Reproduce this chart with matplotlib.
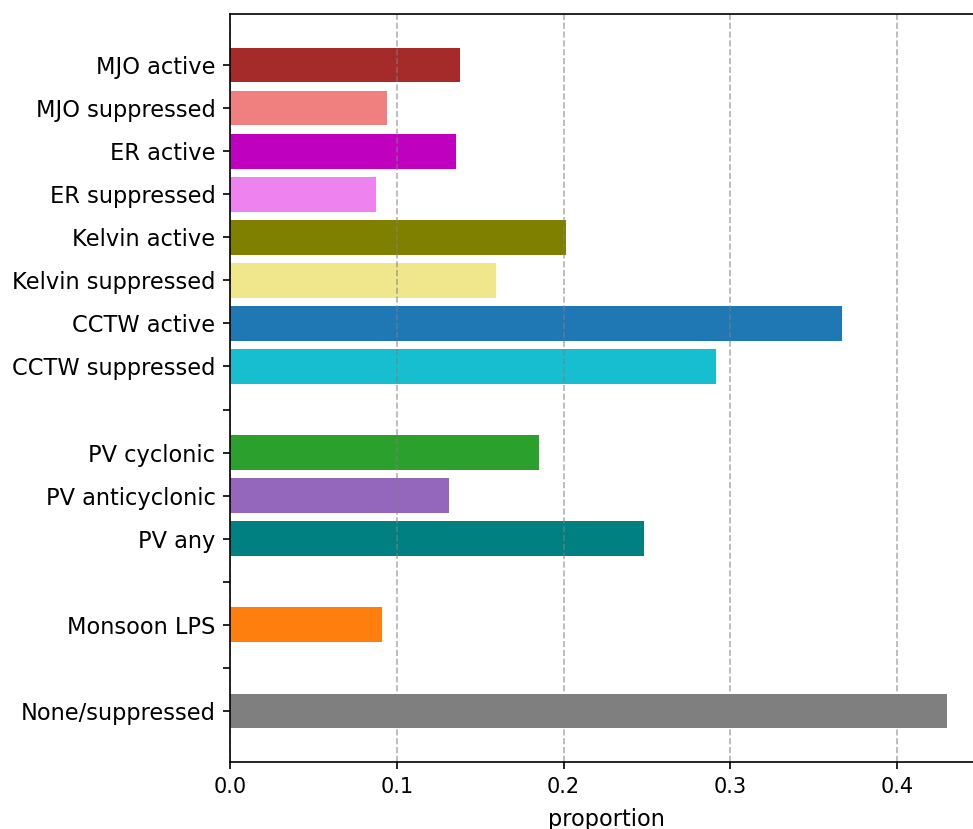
import numpy as np
import matplotlib
matplotlib.use('Agg')
import matplotlib.pyplot as plt

# categories top to bottom, '' = spacer row
labels = ['MJO active', 'MJO suppressed', 'ER active', 'ER suppressed',
          'Kelvin active', 'Kelvin suppressed', 'CCTW active', 'CCTW suppressed',
          '',
          'PV cyclonic', 'PV anticyclonic', 'PV any',
          '',
          'Monsoon LPS',
          '',
          'None/suppressed']
values = [0.138, 0.094, 0.1355, 0.0875,
          0.2015, 0.1595, 0.367, 0.2915,
          np.nan,
          0.1853, 0.1313, 0.2483,
          np.nan,
          0.0912,
          np.nan,
          0.430]
colors = ['brown', 'lightcoral', 'm', 'violet',
          'olive', 'khaki', 'tab:blue', 'tab:cyan',
          'none',
          'tab:green', 'tab:purple', 'teal',
          'none',
          'tab:orange',
          'none',
          'tab:gray']

fig = plt.figure(figsize=(973 / 150, 829 / 150), dpi=150)
ax = fig.add_axes([230 / 973, 1 - 762 / 829, (983 - 230) / 973, (762 - 14) / 829])

y = np.arange(len(labels))
vals = np.nan_to_num(np.array(values, dtype=float))
ax.barh(y, vals, color=colors, height=0.8)
ax.set_yticks(y)
ax.set_yticklabels(labels, fontsize=10.8)
ax.invert_yaxis()
ax.set_xlabel('proportion', fontsize=10.8, labelpad=5.5)
ax.grid(axis='x', linestyle='--', color='gray', alpha=0.6)

fig.savefig('out.png', dpi=150)
